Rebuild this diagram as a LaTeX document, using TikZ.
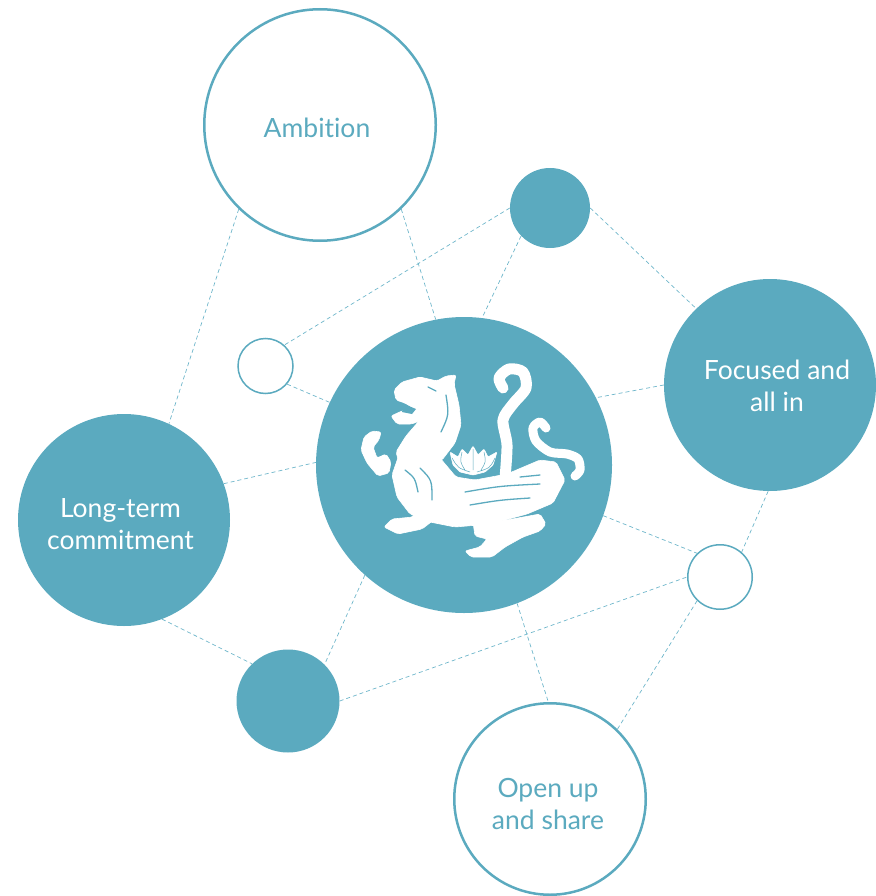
\documentclass[tikz,border=0pt]{standalone}
\usepackage{fontspec}
\setmainfont{Lato}[Ligatures={NoCommon}]
\definecolor{teal1}{RGB}{91,170,191}
\definecolor{teal2}{RGB}{110,182,202}
\begin{document}
\begin{tikzpicture}[x=1pt,y=-1pt,
  disc/.style={circle,fill=teal1,draw=none,inner sep=0pt},
  ring/.style={circle,fill=white,draw=teal1,inner sep=0pt},
  link/.style={draw=teal2,line width=0.7pt,dash pattern=on 4pt off 3pt},
  lbl/.style={font=\fontsize{26.5}{32}\selectfont,align=center,inner sep=0pt},
  tigerpart/.style={fill=white,draw=white,line width=0.6pt,rounded corners=2pt},
  tigerstroke/.style={draw=white,line width=11pt,line cap=round,line join=round},
  stripe/.style={draw=teal1,line width=1.3pt,line cap=round}]
\useasboundingbox (0,0) rectangle (875,896);

% circles
\node[ring,line width=2.5pt,minimum size=231.5pt] (amb) at (320,125) {};
\node[disc,minimum size=80pt] (ts) at (550,208) {};
\node[ring,line width=1.5pt,minimum size=55pt] (ls) at (265.5,366) {};
\node[disc,minimum size=296pt] (cen) at (464,465) {};
\node[disc,minimum size=212pt] (foc) at (770,385) {};
\node[disc,minimum size=212pt] (lng) at (124,520) {};
\node[ring,line width=1.5pt,minimum size=64.5pt] (rs) at (720,577) {};
\node[disc,minimum size=103pt] (bs) at (288,701) {};
\node[ring,line width=2.5pt,minimum size=191.5pt] (opn) at (550,799) {};

% connectors
\draw[link] (amb.226) -- (lng.65);
\draw[link] (amb.314) -- (cen.101);
\draw[link] (ts.180) -- (ls.48);
\draw[link] (ts.224) -- (cen.83);
\draw[link] (ts.0) -- (foc.134);
\draw[link] (ls.320) -- (cen.155);
\draw[link] (foc.180) -- (cen.27);
\draw[link] (foc.269) -- (rs.49);
\draw[link] (lng.20) -- (cen.179);
\draw[link] (lng.291) -- (bs.134);
\draw[link] (cen.340) -- (rs.134);
\draw[link] (cen.228) -- (bs.45);
\draw[link] (bs.0) -- (rs.180);
\draw[link] (cen.291) -- (opn.91);
\draw[link] (rs.226) -- (opn.46);

% labels
\node[lbl,text=teal1] (ambt) at (317,128) {Ambition};
\node[lbl,text=white] (foct) at (777,386) {Focused and\\all in};
\node[lbl,text=white] (lngt) at (120.5,524) {Long-term\\commitment};
\node[lbl,text=teal1] (opnt) at (548,804) {Open up\\and share};

% tiger (stylised silhouette)
\draw[tigerstroke] plot[smooth] coordinates {(505,478) (507,445) (503,420) (513,404) (526,388) (523,372) (509,369) (499,378) (503,388)};
\draw[tigerstroke,line width=9pt] plot[smooth] coordinates {(546,428) (540,422) (533,428) (536,441) (550,452) (567,454) (578,459) (580,470) (575,476)};
\path[tigerpart] (394,390) -- (402,382) -- (420,377) -- (437,381) -- (446,376) -- (456,375) -- (454,384) -- (459,405) -- (461,425) -- (455,443) -- (442,460) -- (424,468) -- (400,466) -- (396,452) -- (406,436) -- (419,421) -- (412,424) -- (397,424) -- (391,416) -- (402,411) -- (413,408) -- (405,403) -- (396,400) -- cycle;
\path[tigerpart] (400,452) -- (440,458) -- (456,477) -- (475,480) -- (507,474) -- (540,460) -- (556,462) -- (565,480) -- (553,503) -- (527,514) -- (490,524) -- (455,527) -- (430,522) -- (410,514) -- (397,497) -- (392,475) -- cycle;
\path[tigerpart] (425,500) -- (413,517) -- (392,519) -- (384,527) -- (398,534) -- (422,529) -- (440,515) -- (436,500) -- cycle;
\path[tigerpart] (364,437) -- (372,431) -- (381,432) -- (379,440) -- (373,447) -- (377,458) -- (386,454) -- (391,462) -- (389,473) -- (378,476) -- (367,463) -- (361,450) -- cycle;
\path[tigerpart] (473,522) -- (507,520) -- (540,514) -- (546,524) -- (540,531) -- (523,537) -- (505,547) -- (492,557) -- (471,557) -- (465,551) -- (480,547) -- (487,539) -- (475,536) -- cycle;
% lotus
\path[tigerpart,rounded corners=1pt] (450,452) -- (458,457) -- (462,449) -- (468,455) -- (473,446) -- (478,455) -- (484,449) -- (488,457) -- (497,452) -- (493,465) -- (485,472) -- (473,475) -- (460,472) -- (453,465) -- cycle;
\draw[draw=teal1,line width=0.5pt] (462,452) .. controls (460,462) .. (465,470)
  (473,449) -- (473,470) (484,452) .. controls (486,462) .. (481,470)
  (452,458) .. controls (458,468) .. (470,472) (495,458) .. controls (490,468) .. (477,472);
% mouth and stripes
\fill[teal1] (404,404) -- (416,409) -- (412,414) -- (402,412) -- cycle;
\draw[stripe] (428,387) -- (436,391);
\draw[stripe] (446,395) .. controls (449,415) .. (441,432);
\draw[stripe] (405,470) .. controls (415,478) .. (418,492);
\draw[stripe] (420,468) .. controls (432,480) .. (432,500);
\draw[stripe] (465,492) .. controls (500,486) .. (540,484);
\draw[stripe] (470,505) .. controls (500,500) .. (530,498);
\draw[stripe] (520,477) -- (540,475);
\end{tikzpicture}
\end{document}
